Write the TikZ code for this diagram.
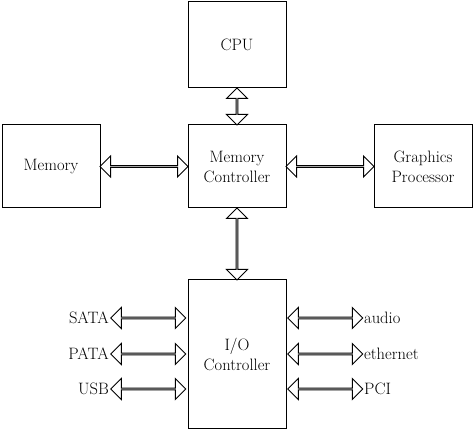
\documentclass[tikz,border=0pt]{standalone}
\usetikzlibrary{shapes.arrows,calc}
\begin{document}
\begin{tikzpicture}[x=1pt,y=-1pt,
  box/.style={draw,line width=1pt,minimum width=98pt,inner sep=0pt,align=center,font=\fontsize{16.5}{20}\selectfont},
  lbl/.style={font=\fontsize{16.5}{20}\selectfont,inner sep=0pt},
  darrow/.style={double arrow,draw,line width=1pt,minimum width=21pt,double arrow head extend=5.5pt,inner sep=0pt,double arrow head indent=0pt}]
\useasboundingbox (0,0) rectangle (474,430);
\node[box,minimum height=86pt] (cpu) at (237,45) {CPU};
\node[box,minimum height=83pt] (mem) at (51,166.5) {Memory};
\node[box,minimum height=83pt] (mc) at (237,166.5) {Memory\\Controller};
\node[box,minimum height=83pt] (gp) at (423,166.5) {Graphics\\Processor};
\node[box,minimum height=148pt] (io) at (237,354) {I/O\\Controller};
\path (cpu.south) -- (mc.north) node[midway,darrow,rotate=90,minimum height=37pt] {};
\path (mc.south) -- (io.north) node[midway,darrow,rotate=90,minimum height=72pt] {};
\path (mem.east) -- (mc.west) node[midway,darrow,minimum height=88pt] {};
\path (mc.east) -- (gp.west) node[midway,darrow,minimum height=88pt] {};
\node[lbl,anchor=east] (sata) at (109,318) {SATA};
\node[lbl,anchor=east] (pata) at (109,354) {PATA};
\node[lbl,anchor=east] (usb) at (109,389) {USB};
\node[lbl,anchor=west] (audio) at (364,318) {audio};
\node[lbl,anchor=west] (eth) at (364,354) {ethernet};
\node[lbl,anchor=west] (pci) at (364,389) {PCI};
\foreach \n/\y in {sata/318,pata/354,usb/389}{
  \path (\n.east |- 0,\y) -- (io.west |- 0,\y) node[midway,darrow,minimum height=75pt] {};}
\foreach \n/\y in {audio/318,eth/354,pci/389}{
  \path (io.east |- 0,\y) -- (\n.west |- 0,\y) node[midway,darrow,minimum height=75pt] {};}
\end{tikzpicture}
\end{document}
